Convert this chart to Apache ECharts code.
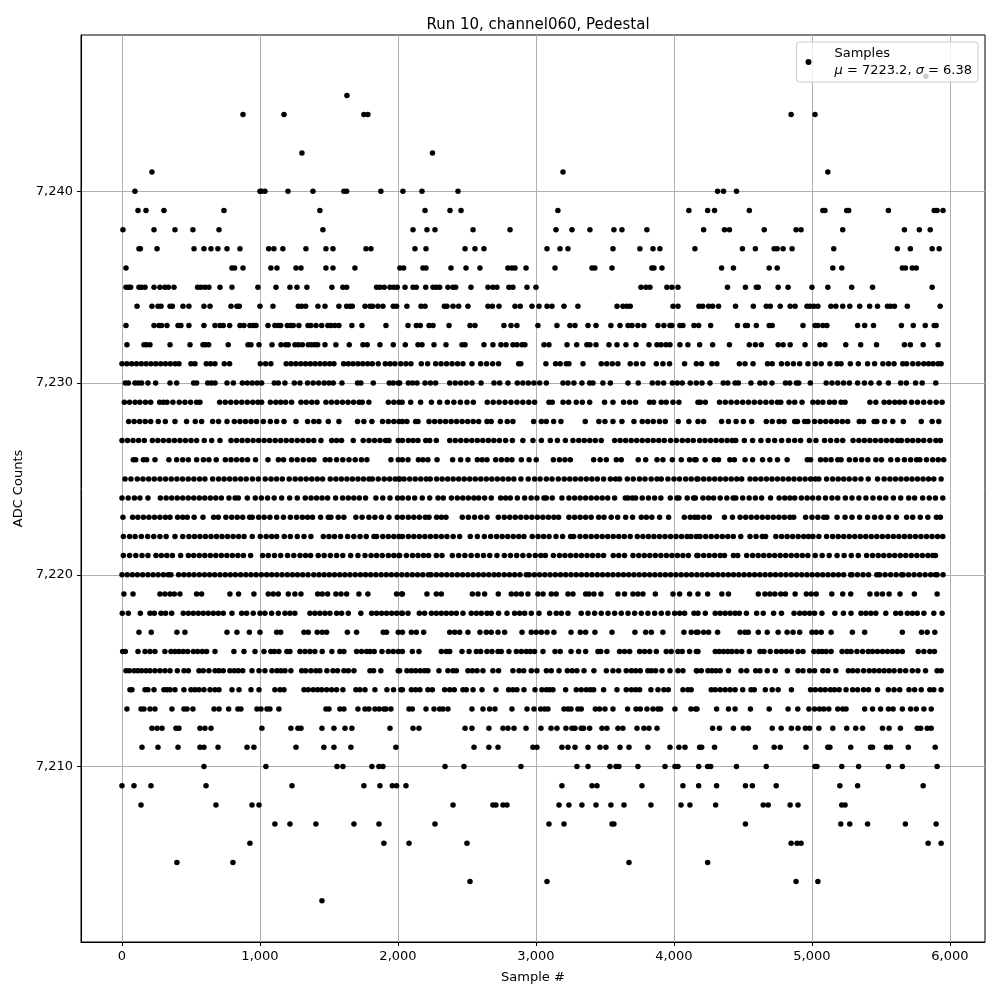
<!DOCTYPE html>
<html><head><meta charset="utf-8">
<style>html,body{margin:0;padding:0;background:#fff}#c{width:1000px;height:1000px}</style>
<script src="https://cdn.jsdelivr.net/npm/echarts@6/dist/echarts.min.js"></script>
</head><body><div id="c"></div>
<script>
const xTicks=[0,1000,2000,3000,4000,5000,6000];
const yTicks=[7210,7220,7230,7240];
const a7246=[5825];
const a7245=[1630];
const a7244=[877,1174,1753,1782,4849,5022];
const a7242=[1304,2250];
const a7241=[217,3196,5115];
const a7240=[94,1000,1012,1036,1203,1384,1608,1628,1876,2036,2174,2435,4316,4359,4453];
const a7239=[116,174,304,739,1434,2196,2377,2457,3159,4108,4244,4294,4546,5079,5094,5252,5266,5554,5886,5907,5950];
const a7238=[7,232,384,514,703,1456,2109,2210,2268,2544,2812,3145,3261,3391,3565,3623,3804,4215,4366,4402,4654,4885,4921,5223,5670,5778,5857];
const a7237=[123,133,254,522,594,645,695,761,855,1063,1101,1166,1333,1478,1529,1768,1804,2123,2203,2486,2558,2623,3080,3174,3232,3558,3753,3848,3898,4152,4496,4590,4726,4748,4791,4856,5158,5619,5713,5871,5922];
const a7236=[29,797,816,877,1079,1123,1261,1297,1478,1529,1688,2014,2041,2181,2203,2384,2493,2594,2797,2826,2848,2928,3138,3406,3427,3551,3840,3855,3913,4345,4431,4690,4748,5151,5216,5655,5677,5727,5756];
const a7235=[29,48,63,123,142,167,232,275,311,336,377,548,572,601,630,710,797,985,1116,1217,1268,1340,1521,1601,1628,1845,1869,1900,1942,1970,1995,2051,2109,2133,2201,2254,2278,2302,2362,2399,2418,2529,2652,2688,2717,2804,2833,2935,3000,3761,3797,3826,3949,3985,4029,4388,4518,4597,4611,4755,4827,5000,5115,5288,5439,5871];
const a7234=[109,217,261,283,348,365,442,485,594,638,790,833,850,1000,1094,1278,1302,1331,1420,1471,1572,1628,1652,1669,1761,1797,1816,1855,1891,1966,1990,2065,2167,2196,2336,2355,2399,2440,2507,2652,2684,2732,2848,2886,2971,3022,3080,3116,3203,3304,3587,3630,3659,3683,3993,4029,4181,4208,4251,4280,4323,4446,4575,4669,4698,4770,4842,4878,4964,4986,5014,5043,5137,5173,5223,5274,5346,5418,5475,5547,5569,5598,5691,5929];
const a7233=[29,232,268,287,326,406,427,485,594,674,710,734,780,855,884,927,951,971,1058,1108,1133,1150,1198,1222,1241,1282,1348,1369,1406,1447,1492,1514,1543,1572,1666,1739,1913,2073,2133,2162,2225,2254,2370,2522,2558,2768,2819,2862,3014,3152,3246,3283,3377,3435,3543,3609,3667,3696,3739,3782,3884,3927,3971,3985,4043,4065,4145,4179,4266,4460,4518,4532,4597,4690,4712,4935,5022,5043,5079,5108,5331,5382,5446,5648,5734,5821,5886,5900];
const a7232=[36,159,179,203,348,493,587,606,628,770,913,935,993,1087,1152,1186,1205,1253,1278,1307,1350,1374,1398,1418,1471,1550,1647,1746,1777,1869,1966,2053,2145,2174,2261,2348,2464,2486,2623,2688,2746,2783,2833,2862,2899,2920,3058,3094,3225,3295,3369,3391,3435,3529,3587,3652,3725,3819,3877,3906,3942,3971,4043,4101,4186,4280,4402,4546,4590,4633,4755,4791,4842,4950,5058,5094,5245,5353,5468,5670,5713,5806,5914];
const a7231=[0,35,70,105,140,175,210,245,280,315,350,385,413,500,529,611,642,674,741,780,1002,1041,1079,1190,1225,1260,1295,1330,1365,1400,1435,1470,1505,1536,1606,1640,1675,1710,1745,1780,1814,1857,1908,1943,1978,2020,2058,2094,2169,2215,2273,2312,2352,2392,2432,2471,2536,2599,2642,2686,2729,2875,2890,3072,3142,3176,3220,3239,3341,3473,3513,3553,3594,3683,3727,3775,3872,3920,3968,4077,4162,4200,4275,4311,4474,4515,4573,4678,4712,4779,4822,4866,4911,4971,5024,5067,5130,5182,5211,5278,5336,5403,5454,5514,5555,5595,5658,5686,5730,5770,5810,5845,5878,5914,5936];
const a7230=[24,46,94,118,142,188,244,348,396,519,541,621,648,674,761,807,872,908,944,980,1012,1104,1133,1181,1249,1290,1345,1385,1425,1465,1500,1531,1594,1707,1731,1821,1937,1966,2002,2012,2075,2105,2138,2196,2235,2273,2375,2415,2455,2495,2536,2602,2696,2737,2797,2865,2905,2945,2985,3027,3075,3196,3232,3275,3333,3389,3413,3485,3539,3667,3741,3843,3884,3925,3988,4024,4060,4118,4162,4203,4261,4357,4390,4443,4467,4558,4623,4659,4710,4808,4839,4887,4904,4988,5103,5145,5187,5229,5271,5331,5380,5427,5487,5554,5643,5684,5751,5799,5897];
const a7229=[17,55,95,130,170,208,273,300,326,369,415,456,497,541,565,708,748,788,828,868,908,948,985,1012,1075,1115,1150,1186,1229,1297,1335,1375,1413,1478,1518,1558,1598,1638,1678,1718,1741,1789,1930,1970,2007,2030,2092,2164,2242,2302,2358,2405,2452,2500,2546,2647,2690,2733,2776,2819,2862,2905,2948,2990,3094,3118,3196,3237,3292,3336,3389,3497,3558,3635,3679,3722,3823,3852,3908,3944,3993,4036,4174,4191,4227,4330,4372,4414,4456,4498,4540,4582,4624,4666,4708,4750,4774,4834,4875,4928,5007,5043,5079,5127,5163,5211,5240,5420,5463,5523,5560,5600,5635,5672,5722,5765,5810,5855,5900,5943];
const a7228=[48,88,128,168,208,263,314,384,468,531,577,657,700,761,814,855,895,935,975,1024,1075,1121,1174,1261,1345,1390,1427,1495,1572,1707,1753,1811,1888,1930,1970,2007,2032,2065,2128,2145,2225,2265,2305,2345,2385,2425,2465,2505,2545,2585,2645,2676,2742,2792,2833,2983,3039,3075,3128,3181,3357,3456,3500,3558,3623,3710,3770,3810,3850,3895,3937,4031,4108,4174,4215,4345,4395,4450,4503,4563,4669,4712,4762,4798,4875,4895,4947,4971,5019,5060,5100,5140,5180,5220,5259,5343,5374,5451,5470,5526,5586,5662,5792,5871,5919];
const a7227=[0,40,80,120,162,220,260,300,340,380,420,460,500,541,596,650,710,790,830,870,910,950,990,1030,1070,1110,1150,1190,1230,1270,1310,1350,1390,1442,1519,1555,1591,1676,1748,1790,1830,1870,1910,1935,2002,2032,2075,2110,2145,2201,2230,2278,2375,2415,2455,2495,2535,2575,2615,2655,2695,2735,2780,2829,2905,2978,3039,3104,3155,3213,3268,3310,3350,3390,3430,3473,3570,3610,3650,3690,3730,3770,3810,3850,3890,3930,3975,4017,4060,4100,4140,4186,4225,4265,4305,4345,4385,4422,4448,4510,4570,4630,4683,4730,4780,4830,4875,4918,4981,5029,5091,5135,5180,5223,5298,5340,5380,5420,5460,5500,5540,5580,5620,5648,5691,5730,5770,5810,5854,5898,5931];
const a7226=[82,99,155,179,239,340,396,440,481,541,590,630,683,749,790,830,870,910,968,1058,1133,1171,1229,1270,1314,1357,1391,1473,1507,1555,1600,1645,1690,1735,1775,1949,2002,2032,2073,2148,2181,2217,2283,2396,2454,2507,2575,2610,2645,2708,2750,2790,2826,2894,2950,3002,3126,3170,3210,3249,3418,3465,3510,3582,3618,3741,3795,3877,3920,3988,4053,4113,4150,4160,4226,4292,4323,4405,4438,4515,4570,4642,4695,4750,4820,4966,4990,5062,5100,5139,5187,5211,5271,5315,5360,5405,5463,5504,5571,5620,5670,5715,5758,5782,5830,5875,5915,5955];
const a7225=[22,65,111,152,193,234,275,316,357,398,439,480,521,562,601,657,700,740,780,820,860,900,945,988,1038,1080,1120,1162,1212,1255,1295,1335,1375,1415,1454,1509,1550,1590,1630,1670,1710,1750,1790,1814,1857,1900,1940,1980,2007,2012,2044,2085,2125,2165,2205,2234,2280,2320,2360,2400,2440,2480,2520,2560,2600,2640,2680,2720,2760,2800,2840,2891,2944,2990,3030,3075,3116,3162,3205,3245,3285,3325,3365,3405,3445,3490,3539,3577,3606,3662,3705,3750,3790,3835,3877,3908,3956,4000,4040,4085,4125,4166,4174,4215,4255,4295,4335,4375,4415,4455,4491,4551,4590,4630,4670,4710,4750,4790,4830,4870,4910,4950,4990,5024,5050,5106,5150,5190,5230,5270,5312,5355,5408,5475,5523,5565,5605,5645,5685,5725,5765,5805,5845,5883,5936];
const a7224=[0,45,90,130,188,278,320,360,400,440,480,520,560,600,640,680,720,775,820,843,908,966,1010,1055,1103,1157,1215,1270,1328,1370,1410,1450,1490,1548,1599,1640,1680,1720,1765,1840,1890,1942,1997,2032,2075,2121,2176,2230,2290,2328,2387,2430,2470,2510,2550,2585,2628,2676,2744,2780,2814,2865,2918,2965,3007,3058,3075,3118,3188,3239,3280,3320,3360,3400,3440,3480,3520,3570,3647,3667,3698,3722,3770,3815,3860,3905,3973,4021,4036,4096,4142,4155,4210,4250,4287,4335,4383,4429,4448,4498,4545,4590,4635,4700,4762,4803,4840,4875,4923,4965,5005,5048,5098,5145,5187,5242,5290,5340,5391,5442,5490,5535,5590,5643,5701,5744,5802,5850,5895,5948];
const a7223=[7,77,115,155,195,235,275,315,348,403,440,473,523,587,664,698,753,795,835,875,925,944,990,1030,1072,1121,1170,1220,1265,1307,1345,1381,1439,1495,1514,1567,1608,1695,1740,1789,1833,1880,1935,1995,2032,2075,2115,2155,2198,2225,2280,2315,2348,2466,2510,2555,2600,2645,2727,2770,2810,2850,2890,2930,2970,3010,3050,3090,3130,3164,3239,3280,3320,3360,3400,3454,3493,3545,3592,3650,3700,3763,3800,3840,3896,3961,4075,4118,4150,4174,4215,4256,4366,4424,4479,4520,4560,4600,4640,4680,4720,4760,4800,4840,4868,4954,5000,5043,5086,5108,5182,5240,5290,5345,5403,5454,5500,5555,5612,5686,5730,5785,5840,5902,5931];
const a7222=[10,55,95,140,186,230,275,320,384,440,485,525,565,605,645,685,725,765,805,845,885,944,1002,1045,1085,1121,1176,1220,1270,1319,1369,1459,1500,1540,1584,1635,1680,1725,1770,1826,1845,1890,1930,1970,2007,2032,2075,2115,2155,2195,2235,2275,2315,2355,2400,2447,2524,2575,2626,2672,2715,2755,2795,2835,2875,2913,2973,3015,3055,3095,3145,3193,3251,3273,3319,3360,3400,3440,3480,3520,3560,3600,3640,3683,3734,3775,3815,3855,3895,3935,3975,4015,4055,4095,4123,4162,4189,4230,4270,4310,4350,4390,4430,4484,4551,4595,4640,4664,4738,4780,4820,4860,4900,4940,4975,5007,5050,5106,5150,5190,5230,5270,5310,5350,5390,5430,5470,5510,5550,5590,5630,5670,5710,5750,5790,5830,5870,5910,5948];
const a7221=[10,55,100,145,188,246,285,325,365,425,481,520,560,600,640,680,720,760,800,840,880,932,1019,1060,1105,1150,1200,1245,1290,1330,1367,1422,1465,1510,1555,1600,1657,1710,1761,1805,1845,1886,1930,1970,2007,2012,2061,2105,2145,2185,2222,2278,2319,2394,2440,2485,2530,2575,2620,2665,2717,2771,2815,2860,2905,2950,2995,3035,3068,3126,3170,3210,3250,3290,3330,3370,3410,3450,3490,3560,3600,3642,3703,3745,3785,3825,3865,3905,3945,3985,4025,4065,4105,4166,4174,4215,4255,4295,4335,4366,4431,4462,4527,4570,4610,4650,4690,4730,4770,4810,4850,4890,4930,4970,5024,5074,5125,5182,5233,5285,5336,5396,5439,5480,5520,5560,5600,5640,5680,5720,5760,5800,5840,5876,5895];
const a7220=[0,38,75,112,150,188,225,262,300,335,355,410,448,485,522,560,598,635,672,710,748,785,822,860,898,935,972,1010,1048,1085,1122,1160,1198,1235,1272,1310,1348,1390,1428,1465,1502,1540,1578,1615,1652,1690,1728,1765,1802,1840,1878,1915,1952,1990,2028,2066,2104,2142,2180,2220,2240,2278,2316,2354,2392,2430,2468,2506,2544,2582,2620,2658,2696,2730,2770,2808,2846,2884,2930,2950,2988,3026,3064,3102,3140,3178,3216,3254,3292,3330,3368,3406,3444,3482,3520,3558,3596,3634,3672,3710,3748,3786,3824,3862,3900,3938,3976,4014,4052,4090,4128,4166,4204,4242,4280,4318,4356,4394,4432,4470,4508,4546,4584,4622,4660,4698,4736,4774,4812,4850,4888,4926,4964,5002,5040,5078,5116,5154,5192,5230,5280,5290,5330,5370,5410,5470,5490,5530,5570,5610,5650,5660,5700,5740,5780,5820,5860,5895,5907,5950];
const a7219=[14,80,275,311,348,379,420,541,577,782,845,956,1060,1096,1133,1205,1253,1297,1418,1451,1490,1550,1587,1628,1717,1782,1990,2026,2032,2210,2278,2314,2539,2580,2628,2727,2821,2857,2894,2942,3014,3051,3111,3147,3232,3268,3360,3384,3420,3471,3594,3642,3703,3739,3775,3865,3993,4041,4113,4174,4244,4347,4395,4611,4659,4695,4731,4774,4808,4878,4959,4995,5031,5144,5223,5281,5420,5470,5511,5559,5638,5742,5907];
const a7218=[2,46,133,203,234,283,316,360,444,481,517,553,589,625,662,698,734,797,867,903,951,1000,1036,1084,1133,1181,1217,1253,1362,1398,1434,1471,1507,1555,1591,1640,1731,1809,1845,1881,1917,1954,1990,2026,2032,2073,2155,2193,2242,2278,2314,2350,2387,2423,2471,2531,2568,2604,2645,2676,2729,2790,2845,2882,2918,2966,3022,3099,3147,3184,3232,3328,3377,3425,3473,3522,3570,3618,3667,3715,3763,3811,3860,3908,3956,4005,4041,4077,4145,4174,4227,4299,4335,4371,4407,4443,4474,4525,4599,4647,4722,4779,4870,4911,4947,4983,5019,5072,5166,5228,5283,5355,5391,5427,5463,5535,5607,5643,5691,5727,5763,5811,5883,5943];
const a7217=[123,212,398,456,761,833,923,1000,1121,1150,1319,1350,1415,1451,1483,1633,1700,1893,1917,2002,2032,2097,2133,2186,2375,2411,2447,2507,2594,2640,2676,2725,2773,2899,2966,3002,3039,3080,3130,3254,3321,3360,3427,3551,3717,3795,3836,3920,4072,4125,4162,4174,4215,4251,4316,4479,4515,4539,4611,4676,4755,4820,4863,4911,5000,5031,5067,5139,5293,5382,5655,5794,5835,5890];
const a7216=[5,24,116,167,203,239,311,355,384,413,444,476,517,548,582,613,674,811,884,964,1029,1079,1104,1137,1195,1217,1290,1326,1362,1398,1451,1521,1579,1608,1700,1736,1773,1797,1828,1884,1930,1966,2002,2032,2104,2152,2314,2350,2375,2464,2515,2568,2599,2645,2681,2725,2749,2804,2858,2894,2930,2959,2990,3051,3138,3176,3254,3309,3360,3449,3469,3514,3606,3642,3679,3751,3787,3824,3872,3944,3980,4029,4060,4113,4162,4174,4299,4328,4359,4390,4419,4455,4491,4546,4623,4652,4698,4743,4779,4815,4851,4899,4935,5014,5048,5074,5103,5139,5218,5254,5283,5326,5367,5408,5439,5475,5511,5547,5583,5619,5655,5770,5811,5854,5888];
const a7215=[29,53,87,114,142,174,203,239,275,311,348,401,449,481,558,589,630,674,703,734,782,814,843,875,942,993,1036,1087,1123,1152,1181,1224,1302,1331,1369,1405,1434,1485,1529,1562,1608,1640,1681,1797,1823,1876,2002,2012,2065,2097,2128,2162,2193,2217,2297,2362,2399,2423,2507,2539,2573,2616,2688,2729,2833,2877,2911,2966,3007,3075,3111,3167,3227,3263,3297,3348,3420,3510,3558,3599,3654,3691,3722,3756,3811,3836,3867,3913,3971,4029,4065,4162,4167,4198,4246,4275,4304,4335,4395,4486,4527,4592,4623,4676,4734,4822,4899,4935,4983,5019,5079,5115,5173,5264,5295,5331,5374,5415,5451,5487,5523,5559,5595,5638,5679,5727,5768,5823,5907,5936];
const a7214=[58,72,167,188,232,304,326,348,384,449,500,529,558,594,638,674,703,797,848,935,993,1108,1145,1174,1319,1350,1386,1418,1447,1483,1519,1555,1601,1695,1724,1761,1833,1920,1968,2021,2032,2097,2128,2159,2217,2249,2338,2375,2408,2471,2495,2544,2609,2710,2802,2833,2862,2913,2993,3043,3075,3099,3123,3215,3292,3328,3365,3394,3418,3490,3587,3654,3691,3722,3751,3833,3884,3927,3959,4065,4101,4125,4270,4299,4335,4371,4407,4443,4498,4558,4582,4662,4712,4755,4851,4990,5024,5062,5096,5134,5163,5197,5247,5295,5331,5374,5410,5475,5554,5595,5636,5703,5744,5792,5854,5883,5936];
const a7213=[36,138,159,203,239,362,449,471,514,667,703,773,840,862,978,1007,1051,1072,1137,1478,1500,1579,1608,1710,1761,1789,1833,1864,1898,1913,1949,2080,2104,2203,2261,2302,2326,2362,2536,2616,2664,2703,2826,2935,2986,3034,3063,3087,3203,3232,3254,3304,3328,3430,3461,3500,3558,3664,3725,3756,3804,3848,3884,3903,4007,4123,4157,4167,4309,4395,4443,4554,4690,4827,4897,4978,5019,5055,5086,5122,5187,5223,5247,5382,5439,5497,5554,5588,5655,5715,5756,5811,5864];
const a7212=[217,254,290,391,413,565,601,645,1014,1224,1275,1297,1449,1536,1616,1666,1942,2109,2152,2486,2536,2659,2761,2797,2841,2928,3036,3109,3152,3217,3261,3283,3328,3345,3389,3478,3514,3594,3630,3732,3782,3819,3877,4280,4330,4431,4503,4539,4712,4777,4851,4899,4952,4983,5050,5151,5252,5317,5367,5511,5559,5641,5763,5787,5835,5864];
const a7211=[145,261,406,565,594,696,906,956,1261,1463,1536,1659,1985,2551,2659,2725,2978,3007,3188,3232,3283,3377,3464,3507,3609,3674,3811,3971,4036,4080,4186,4201,4294,4590,4726,4770,4957,5115,5130,5281,5425,5439,5540,5569,5698,5893];
const a7210=[594,1043,1558,1601,1811,1862,1891,2341,2478,2891,3297,3377,3536,3580,3601,3739,3935,4007,4029,4179,4244,4266,4453,4669,5022,5036,5216,5338,5554,5655,5907];
const a7209=[0,87,210,609,1232,1753,1869,1959,1990,2058,3188,3406,3442,3768,4065,4179,4309,4518,4568,4741,5202,5331,5806];
const a7208=[138,681,942,993,2399,2688,2710,2761,2790,3167,3239,3333,3435,3543,3638,3833,4051,4116,4302,4647,4683,4842,4899,5216,5240];
const a7207=[1108,1217,1405,1681,1862,2268,3094,3203,3551,3565,4518,5209,5274,5403,5677,5900];
const a7206=[927,1898,2080,2500,4849,4892,4921,5842,5936];
const a7205=[398,804,3674,4244];
const a7204=[2522,3080,4885,5043];
const a7203=[1449];
const levels=[[7246,a7246],[7245,a7245],[7244,a7244],[7242,a7242],[7241,a7241],[7240,a7240],[7239,a7239],[7238,a7238],[7237,a7237],[7236,a7236],[7235,a7235],[7234,a7234],[7233,a7233],[7232,a7232],[7231,a7231],[7230,a7230],[7229,a7229],[7228,a7228],[7227,a7227],[7226,a7226],[7225,a7225],[7224,a7224],[7223,a7223],[7222,a7222],[7221,a7221],[7220,a7220],[7219,a7219],[7218,a7218],[7217,a7217],[7216,a7216],[7215,a7215],[7214,a7214],[7213,a7213],[7212,a7212],[7211,a7211],[7210,a7210],[7209,a7209],[7208,a7208],[7207,a7207],[7206,a7206],[7205,a7205],[7204,a7204],[7203,a7203]];
const points=[];
levels.forEach(([y,xs])=>xs.forEach(x=>points.push([x,y])));
const FONT='DejaVu Sans';
const chart=echarts.init(document.getElementById('c'),null,{renderer:'canvas'});
chart.setOption({
  animation:false,
  textStyle:{fontFamily:FONT},
  title:{text:'Run 10, channel060, Pedestal',left:533,top:13,textAlign:'center',textStyle:{fontFamily:FONT,fontSize:15,fontWeight:'normal',color:'#000'}},
  grid:{left:81,right:15,top:35,bottom:58,show:true,borderColor:'#000',borderWidth:1,backgroundColor:'#fff'},
  legend:{show:true,right:22,top:42,orient:'vertical',padding:[5,6,5,9],itemWidth:20,itemHeight:6,
    backgroundColor:'rgba(255,255,255,0.8)',borderColor:'#ccc',borderWidth:1,borderRadius:3,
    icon:'circle',selectedMode:false,data:['Samples'],
    formatter:()=>'{s|}{n|Samples}\n{s|}{i|\u03bc}{n| = 7223.2, }{i|\u03c3}{n| = 6.38}',
    textStyle:{rich:{
      s:{width:11,fontSize:13,lineHeight:17},
      n:{fontFamily:FONT,fontSize:13,color:'#000',lineHeight:17},
      i:{fontFamily:FONT,fontSize:13,fontStyle:'italic',color:'#000',lineHeight:17}}}},
  xAxis:{type:'value',min:-297,max:6254,name:'Sample #',nameLocation:'middle',nameGap:29,
    nameTextStyle:{fontFamily:FONT,fontSize:13,color:'#000'},
    axisLine:{show:true,onZero:false,lineStyle:{color:'#000',width:1}},
    axisTick:{show:true,length:4,lineStyle:{color:'#000',width:1},customValues:xTicks},
    axisLabel:{color:'#000',fontFamily:FONT,fontSize:13,margin:8,customValues:xTicks,showMinLabel:true,showMaxLabel:true},
    splitLine:{show:true,lineStyle:{color:'#b0b0b0',width:1}}},
  yAxis:{type:'value',min:7200.85,max:7248.15,name:'ADC Counts',nameLocation:'middle',nameGap:53,
    nameTextStyle:{fontFamily:FONT,fontSize:13,color:'#000'},
    axisLine:{show:true,onZero:false,lineStyle:{color:'#000',width:1}},
    axisTick:{show:true,length:4,lineStyle:{color:'#000',width:1},customValues:yTicks},
    axisLabel:{color:'#000',fontFamily:FONT,fontSize:13,margin:8,customValues:yTicks},
    splitLine:{show:true,lineStyle:{color:'#b0b0b0',width:1}}},
  series:[{name:'Samples',type:'scatter',data:points,symbol:'circle',symbolSize:5.5,progressive:0,large:false,silent:true,
    itemStyle:{color:'#000',opacity:1},clip:true}]
});
</script></body></html>
